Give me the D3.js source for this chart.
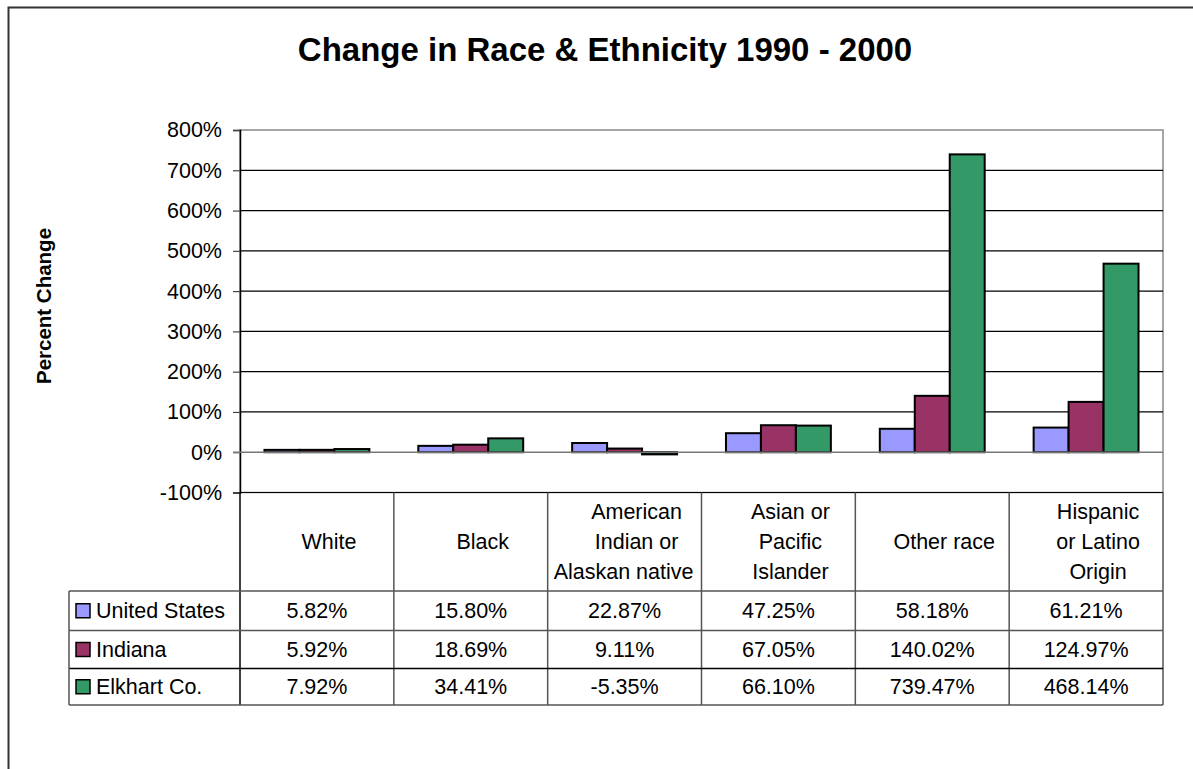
<!DOCTYPE html>
<html>
<head>
<meta charset="utf-8" />
<title>Change in Race &amp; Ethnicity 1990 - 2000</title>
<script src="https://d3js.org/d3.v7.min.js"></script>
<style>
body{
    margin:0;
    background:white;
}
svg text{
    font-family:"Liberation Sans", Arial, sans-serif;
    fill:#000;
}
</style>
</head>
<body>
<svg id="chart" width="1193" height="769"></svg>
<script>

// data
var categories = ["White", "Black", "American Indian or Alaskan native", "Asian or Pacific Islander", "Other race", "Hispanic or Latino Origin"];
var categoryLines = [["White"], ["Black"], ["American", "Indian or", "Alaskan native"], ["Asian or", "Pacific", "Islander"], ["Other race"], ["Hispanic", "or Latino", "Origin"]];
var seriesNames = ["United States", "Indiana", "Elkhart Co."];
var usValues = [5.82, 15.80, 22.87, 47.25, 58.18, 61.21];
var indianaValues = [5.92, 18.69, 9.11, 67.05, 140.02, 124.97];
var elkhartValues = [7.92, 34.41, -5.35, 66.10, 739.47, 468.14];
var yTicks = [-100, 0, 100, 200, 300, 400, 500, 600, 700, 800];
var colors = ["#9999FF", "#993366", "#339966"];

var allValues = [usValues, indianaValues, elkhartValues];

var svg = d3.select("#chart");

// outer chart border (runs off the page on the right and bottom)
svg.append("rect")
    .attr("x", 8.5).attr("y", 7.5)
    .attr("width", 1250).attr("height", 820)
    .attr("fill", "white")
    .attr("stroke", "#333")
    .attr("stroke-width", 2);

svg.append("text")
    .attr("x", 605).attr("y", 61)
    .attr("text-anchor", "middle")
    .style("font-size", "33px")
    .style("font-weight", "bold")
    .text("Change in Race & Ethnicity 1990 - 2000");

var plotLeft = 240, plotRight = 1163, plotTop = 130, plotBottom = 492.5;

var x0 = d3.scaleBand().domain(d3.range(categories.length)).range([plotLeft, plotRight]).padding(0);
var bw = x0.bandwidth();
var gap = bw * 1.4 / 4.4;
var x1 = d3.scaleBand().domain(d3.range(seriesNames.length)).range([gap / 2, bw - gap / 2]).padding(0);
var y = d3.scaleLinear().domain([-100, 800]).range([plotBottom, plotTop]);

// plot area border
svg.append("rect")
    .attr("x", plotLeft).attr("y", plotTop)
    .attr("width", plotRight - plotLeft).attr("height", plotBottom - plotTop)
    .attr("fill", "none")
    .attr("stroke", "#888")
    .attr("stroke-width", 1.5);

// gridlines
svg.append("g").selectAll("line")
    .data(yTicks.filter(function(d){ return d != 800 && d != 0; }))
    .enter().append("line")
    .attr("x1", plotLeft).attr("x2", plotRight)
    .attr("y1", function(d){ return y(d); })
    .attr("y2", function(d){ return y(d); })
    .attr("stroke", "#000")
    .attr("stroke-width", 1.2);

// y axis
var yAxis = svg.append("g")
    .attr("transform", "translate(" + plotLeft + ",0)")
    .call(d3.axisLeft(y).tickValues(yTicks).tickSize(7).tickPadding(11).tickFormat(function(d){ return d + "%"; }));
yAxis.attr("font-family", null).attr("font-size", null);
yAxis.select(".domain").attr("stroke", "#000").attr("stroke-width", 1.5);
yAxis.selectAll(".tick line").attr("stroke", "#444").attr("stroke-width", 1.2);
yAxis.selectAll("text")
    .style("font-size", "21.5px")
    .attr("fill", "#000");

svg.append("text")
    .attr("transform", "translate(51,306) rotate(-90)")
    .attr("text-anchor", "middle")
    .style("font-size", "20.5px")
    .style("font-weight", "bold")
    .text("Percent Change");

// bars
var groups = svg.append("g").selectAll("g")
    .data(categories)
    .enter().append("g")
    .attr("transform", function(d, i){ return "translate(" + x0(i) + ",0)"; });

groups.selectAll("rect")
    .data(function(d, i){ return allValues.map(function(v, s){ return {s: s, v: v[i]}; }); })
    .enter().append("rect")
    .attr("x", function(d){ return x1(d.s); })
    .attr("width", x1.bandwidth())
    .attr("y", function(d){ return y(Math.max(0, d.v)); })
    .attr("height", function(d){ return Math.abs(y(d.v) - y(0)); })
    .attr("fill", function(d){ return colors[d.s]; })
    .attr("stroke", "#000")
    .attr("stroke-width", 2);

// category axis at 0%
svg.append("line")
    .attr("x1", plotLeft - 7).attr("x2", plotRight)
    .attr("y1", y(0)).attr("y2", y(0))
    .attr("stroke", "#777")
    .attr("stroke-width", 1.5);

// data table
var tableLeft = 69, headerBottom = 591;
var rowEdges = [591, 630.5, 668.5, 705];

svg.append("g").selectAll("line")
    .data(d3.range(categories.length + 1))
    .enter().append("line")
    .attr("x1", function(d){ return d == categories.length ? plotRight : x0(d); })
    .attr("x2", function(d){ return d == categories.length ? plotRight : x0(d); })
    .attr("y1", plotBottom).attr("y2", rowEdges[3])
    .attr("stroke", function(d){ return d == 0 ? "#000" : "#555"; })
    .attr("stroke-width", 1.5);

svg.append("g").selectAll("line")
    .data(rowEdges)
    .enter().append("line")
    .attr("x1", tableLeft).attr("x2", plotRight)
    .attr("y1", function(d){ return d; }).attr("y2", function(d){ return d; })
    .attr("stroke", function(d, i){ return i == 2 ? "#000" : "#555"; })
    .attr("stroke-width", 1.5);

svg.append("line")
    .attr("x1", tableLeft).attr("x2", tableLeft)
    .attr("y1", rowEdges[0]).attr("y2", rowEdges[3])
    .attr("stroke", "#555").attr("stroke-width", 1.5);

// category labels (Excel pushes them a bit right of centre)
groups.each(function(d, i){
    var lines = categoryLines[i];
    var mid = (plotBottom + headerBottom) / 2;
    d3.select(this).selectAll("text.cat")
        .data(lines)
        .enter().append("text")
        .attr("class", "cat")
        .attr("y", function(l, j){ return mid + (j - (lines.length - 1) / 2) * 30; })
        .attr("dy", "0.35em")
        .attr("text-anchor", "middle")
        .style("font-size", "21.5px")
        .text(function(l){ return l; })
        .attr("x", function(){
            var w = this.getComputedTextLength();
            return bw / 2 + Math.max(-1, Math.min(12, (bw - w) / 2 - 8));
        });
});

// legend + values
var rows = svg.append("g").selectAll("g")
    .data(seriesNames)
    .enter().append("g")
    .attr("transform", function(d, s){ return "translate(0," + (rowEdges[s] + rowEdges[s + 1]) / 2 + ")"; });

rows.append("rect")
    .attr("x", 76).attr("y", -7)
    .attr("width", 14).attr("height", 14)
    .attr("fill", function(d, s){ return colors[s]; })
    .attr("stroke", "#000")
    .attr("stroke-width", 1.5);

rows.append("text")
    .attr("x", 96).attr("dy", "0.35em")
    .style("font-size", "21.5px")
    .text(function(d){ return d; });

rows.each(function(d, s){
    d3.select(this).selectAll("text.val")
        .data(allValues[s])
        .enter().append("text")
        .attr("class", "val")
        .attr("x", function(v, i){ return x0(i) + bw / 2; })
        .attr("dy", "0.35em")
        .attr("text-anchor", "middle")
        .style("font-size", "21.5px")
        .text(function(v){ return v.toFixed(2) + "%"; });
});

</script>
</body>
</html>
